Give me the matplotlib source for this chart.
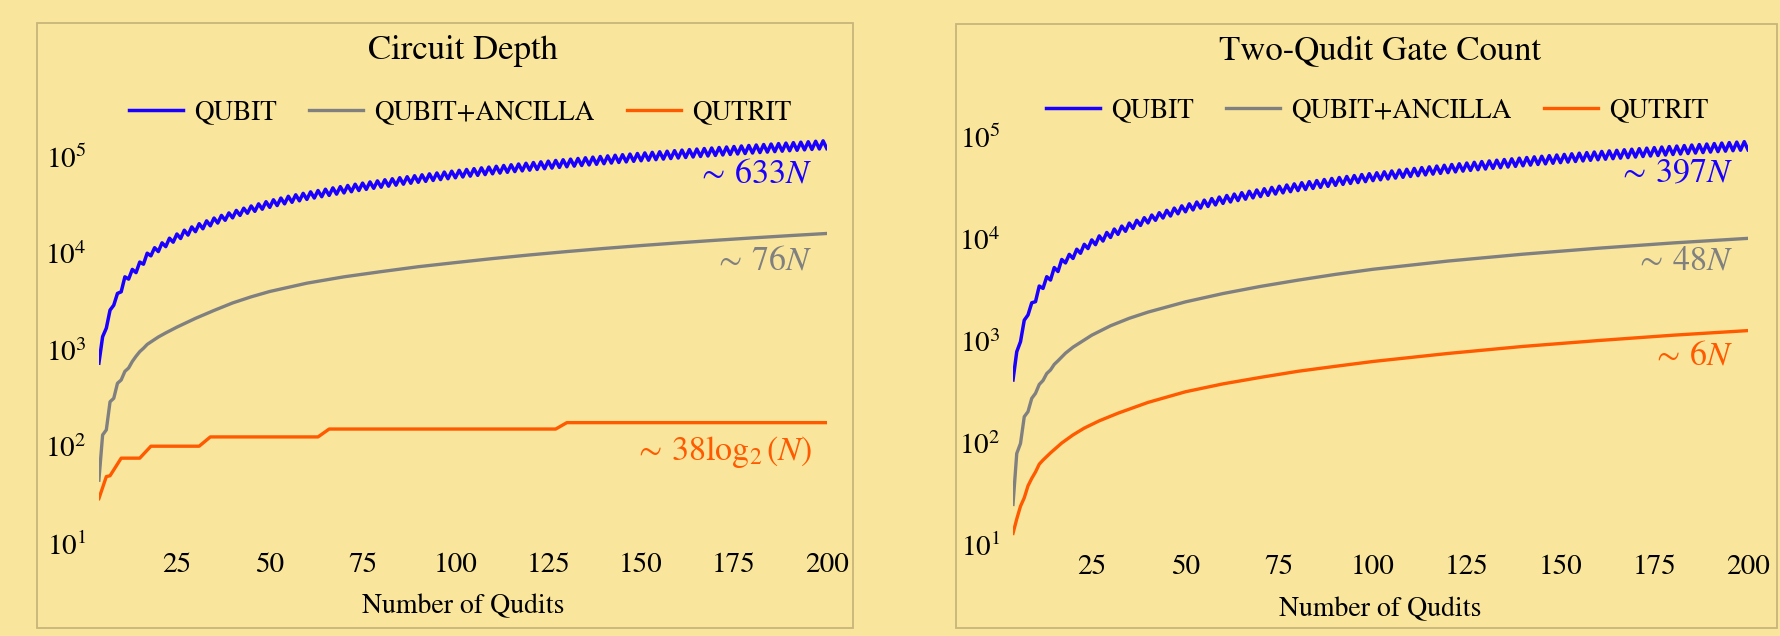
import numpy as np
import matplotlib
matplotlib.use('Agg')
import matplotlib.pyplot as plt
from matplotlib.patches import Rectangle
from matplotlib.ticker import FixedLocator, NullLocator

plt.rcParams['font.family'] = 'STIXGeneral'
plt.rcParams['mathtext.fontset'] = 'stix'

BG = '#f9e69c'
BLUE = '#1a00ff'
GRAY = '#808080'
ORANGE = '#ff5a00'

# number of qudits
n_even = list(range(4, 201, 2))
n_odd = list(range(5, 200, 2))

# QUBIT circuit depth, in thousands
depth_qubit_even = [
    0.73, 1.68, 2.90, 3.99, 5.40, 6.30, 7.70, 9.40, 10.4, 11.7,
    13.0, 14.2, 15.4, 16.7, 17.9, 19.2, 20.5, 21.9, 23.2, 24.6,
    25.9, 27.1, 28.5, 29.8, 31.1, 32.4, 33.6, 34.8, 36.0, 37.2,
    38.4, 39.6, 40.8, 42.0, 43.2, 44.5, 45.7, 46.9, 48.1, 49.3,
    50.5, 51.7, 52.9, 54.1, 55.3, 56.5, 57.7, 58.9, 60.2, 61.4,
    62.6, 63.8, 65.0, 66.2, 67.4, 68.6, 69.8, 71.0, 72.2, 73.4,
    74.7, 75.9, 77.1, 78.3, 79.5, 80.7, 81.9, 83.1, 84.3, 85.6,
    86.8, 88.0, 89.2, 90.4, 91.6, 92.8, 94.0, 95.3, 96.5, 97.7,
    98.9, 100.1, 101.3, 102.6, 103.8, 105.0, 106.2, 107.4, 108.7, 109.9,
    111.1, 112.3, 113.5, 114.8, 116.0, 117.2, 118.4, 119.7, 120.9]
depth_qubit_odd = [
    1.37, 2.58, 3.84, 5.70, 6.80, 8.10, 10.0, 11.4, 12.8, 14.3,
    15.8, 17.3, 18.7, 20.2, 21.6, 23.1, 24.6, 26.1, 27.7, 29.2,
    30.8, 32.4, 34.1, 35.7, 37.2, 38.8, 40.2, 41.6, 43.1, 44.5,
    45.9, 47.4, 48.8, 50.2, 51.7, 53.1, 54.6, 56.0, 57.5, 58.9,
    60.4, 61.8, 63.3, 64.7, 66.2, 67.6, 69.1, 70.5, 72.0, 73.5,
    74.9, 76.4, 77.8, 79.3, 80.8, 82.2, 83.7, 85.2, 86.7, 88.1,
    89.6, 91.1, 92.6, 94.0, 95.5, 97.0, 98.5, 100.0, 101.5, 103.0,
    104.4, 105.9, 107.4, 108.9, 110.4, 111.9, 113.4, 114.9, 116.4, 117.9,
    119.4, 120.9, 122.4, 123.9, 125.4, 126.9, 128.5, 130.0, 131.5, 133.0,
    134.5, 136.0, 137.6, 139.1, 140.6, 142.1, 143.7, 145.2]

# QUBIT two-qudit gate count, in thousands
gates_qubit_even = [
    0.415, 0.985, 1.80, 2.43, 3.28, 3.96, 4.80, 5.83, 6.45, 7.25,
    8.06, 8.80, 9.55, 10.35, 11.10, 11.90, 12.71, 13.58, 14.38, 15.25,
    16.06, 16.80, 17.67, 18.48, 19.28, 20.09, 20.83, 21.58, 22.32, 23.06,
    23.81, 24.55, 25.30, 26.04, 26.78, 27.59, 28.33, 29.08, 29.82, 30.57,
    31.31, 32.05, 32.80, 33.54, 34.29, 35.03, 35.77, 36.52, 37.32, 38.07,
    38.81, 39.56, 40.30, 41.04, 41.79, 42.53, 43.28, 44.02, 44.76, 45.51,
    46.31, 47.06, 47.80, 48.55, 49.29, 50.03, 50.78, 51.52, 52.27, 53.07,
    53.82, 54.56, 55.30, 56.05, 56.79, 57.54, 58.28, 59.09, 59.83, 60.57,
    61.32, 62.06, 62.81, 63.61, 64.36, 65.10, 65.84, 66.59, 67.39, 68.14,
    68.88, 69.63, 70.37, 71.18, 71.92, 72.66, 73.41, 74.21, 74.96]
gates_qubit_odd = [
    0.785, 1.60, 2.37, 3.46, 4.27, 5.25, 6.30, 7.07, 7.94, 8.87,
    9.80, 10.73, 11.59, 12.52, 13.39, 14.32, 15.25, 16.18, 17.17, 18.10,
    19.10, 20.09, 21.14, 22.13, 23.06, 24.06, 24.92, 25.79, 26.72, 27.59,
    28.46, 29.39, 30.26, 31.12, 32.05, 32.92, 33.85, 34.72, 35.65, 36.52,
    37.45, 38.32, 39.25, 40.11, 41.04, 41.91, 42.84, 43.71, 44.64, 45.57,
    46.44, 47.37, 48.24, 49.17, 50.10, 50.96, 51.89, 52.82, 53.75, 54.62,
    55.55, 56.48, 57.41, 58.28, 59.21, 60.14, 61.07, 62.00, 62.93, 63.86,
    64.73, 65.66, 66.59, 67.52, 68.45, 69.38, 70.31, 71.24, 72.17, 73.10,
    74.03, 74.96, 75.89, 76.82, 77.75, 78.68, 79.67, 80.60, 81.53, 82.46,
    83.39, 84.32, 85.31, 86.24, 87.17, 88.10, 89.09, 90.02]

# QUBIT+ANCILLA and QUTRIT, sampled points
n_anc_depth = [4, 5, 6, 7, 8, 9, 10, 11, 12, 13, 14, 15, 16, 17, 18, 20, 22, 25,
               30, 35, 40, 45, 50, 60, 70, 80, 90, 100, 110, 120, 130, 140,
               150, 160, 170, 180, 190, 200]
depth_anc = [45, 132, 149, 291, 316, 452, 489, 600, 650, 760, 860, 960, 1040,
             1140, 1210, 1360, 1500, 1720, 2120, 2560, 3060, 3540, 4020, 4900,
             5700, 6450, 7250, 8000, 8800, 9600, 10400, 11200, 12000, 12800,
             13600, 14400, 15200, 16000]

n_qutrit_depth = [4, 6, 7, 10, 15, 18, 31, 34, 63, 66, 127, 130, 200]
depth_qutrit = [29, 49, 50, 76, 76, 101, 101, 126, 126, 152, 152, 177, 177]

n_anc_gates = [4, 5, 6, 7, 8, 9, 10, 11, 12, 13, 14, 15, 16, 18, 20, 25, 30,
               35, 40, 50, 60, 70, 80, 90, 100, 120, 140, 160, 180, 200]
gates_anc = [25, 79, 99, 181, 203, 274, 307, 375, 410, 480, 520, 590, 640, 760,
             870, 1140, 1410, 1670, 1920, 2420, 2920, 3430, 3950, 4500, 5050,
             6080, 7100, 8120, 9150, 10150]

n_qutrit_gates = [4, 5, 6, 7, 8, 9, 10, 11, 12, 14, 17, 20, 23, 27, 32, 40, 50,
                  60, 70, 80, 90, 100, 120, 140, 160, 180, 200]
gates_qutrit = [13, 18, 24, 29, 38, 45, 52, 62, 68, 80, 100, 120, 140, 165, 196,
                250, 318, 380, 440, 505, 565, 630, 755, 885, 1010, 1140, 1265]


def merge(evens, odds):
    n = np.array(n_even + n_odd)
    v = np.array(evens + odds) * 1000
    order = np.argsort(n)
    return n[order], v[order]


def style_axes(ax):
    ax.set_yscale('log')
    ax.set_xlim(4, 200)
    ax.set_ylim(8, 2e5)
    ax.set_facecolor('none')
    for s in ax.spines.values():
        s.set_visible(False)
    ax.xaxis.set_major_locator(FixedLocator([25, 50, 75, 100, 125, 150, 175, 200]))
    ax.yaxis.set_major_locator(FixedLocator([1e1, 1e2, 1e3, 1e4, 1e5]))
    ax.yaxis.set_minor_locator(NullLocator())
    ax.tick_params(axis='x', length=0, pad=0, labelsize=21)
    ax.tick_params(axis='y', length=0, pad=9, labelsize=21)
    ax.set_xlabel('Number of Qudits', fontsize=20, labelpad=12)


W, H = 1781, 636
fig = plt.figure(figsize=(W / 100, H / 100), dpi=100, facecolor=BG)

# panel frames
for x0, x1, y0 in [(37.3, 853.3, 23.3), (955.7, 1776.6, 24.3)]:
    fig.add_artist(Rectangle((x0 / W, 1 - 628 / H), (x1 - x0) / W, (628 - y0) / H,
                             transform=fig.transFigure, fill=False,
                             edgecolor='#c8b57a', linewidth=1.3))

ax1 = fig.add_axes([98.9 / W, 1 - 552.7 / H, 727.9 / W, 425.3 / H])
ax2 = fig.add_axes([1013 / W, 1 - 554.9 / H, 735 / W, 448.6 / H])

n, v = merge(depth_qubit_even, depth_qubit_odd)
ax1.plot(n, v, color=BLUE, lw=2.5, label='QUBIT')
ax1.plot(n_anc_depth, depth_anc, color=GRAY, lw=2.4, label='QUBIT+ANCILLA')
ax1.plot(n_qutrit_depth, depth_qutrit, color=ORANGE, lw=2.4, label='QUTRIT')
style_axes(ax1)
ax1.text(196, 6.44e4, r'$\sim\,633N$', color=BLUE, fontsize=24.5, ha='right', va='center')
ax1.text(196, 8.2e3, r'$\sim\,76N$', color=GRAY, fontsize=24.5, ha='right', va='center')
ax1.text(196, 88, r'$\sim\,38\log_2(N)$', color=ORANGE, fontsize=24.5, ha='right', va='center')

n, v = merge(gates_qubit_even, gates_qubit_odd)
ax2.plot(n, v, color=BLUE, lw=2.5, label='QUBIT')
ax2.plot(n_anc_gates, gates_anc, color=GRAY, lw=2.4, label='QUBIT+ANCILLA')
ax2.plot(n_qutrit_gates, gates_qutrit, color=ORANGE, lw=2.4, label='QUTRIT')
style_axes(ax2)
ax2.text(196, 4.4e4, r'$\sim\,397N$', color=BLUE, fontsize=24.5, ha='right', va='center')
ax2.text(196, 6.0e3, r'$\sim\,48N$', color=GRAY, fontsize=24.5, ha='right', va='center')
ax2.text(196, 697, r'$\sim\,6N$', color=ORANGE, fontsize=24.5, ha='right', va='center')

fig.text(462.9 / W, 1 - 50.7 / H, 'Circuit Depth', fontsize=25, ha='center', va='center')
fig.text(1380.5 / W, 1 - 50.7 / H, 'Two-Qudit Gate Count', fontsize=25, ha='center', va='center')

for ax, cx, cy in [(ax1, 460, 113), (ax2, 1377, 110.6)]:
    ax.legend(loc='center', bbox_to_anchor=(cx / W, 1 - cy / H), bbox_transform=fig.transFigure,
              ncol=3, frameon=False, fontsize=19.5, handlelength=2.0, handletextpad=0.4,
              columnspacing=1.2)

fig.savefig('out.png', dpi=100, facecolor=BG)
